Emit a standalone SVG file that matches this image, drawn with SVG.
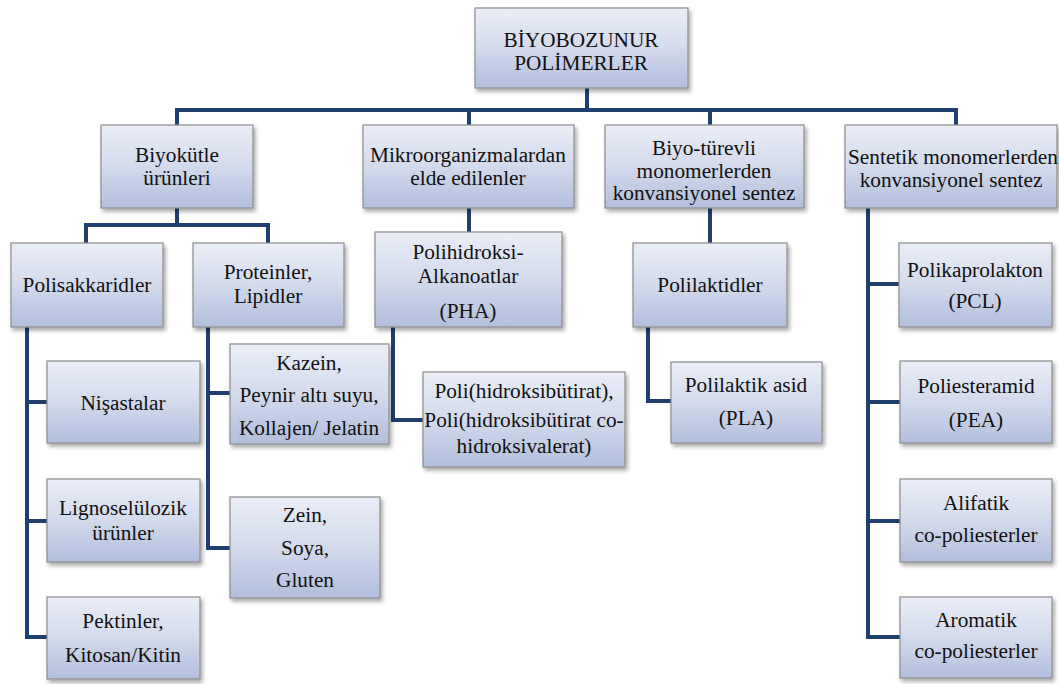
<svg xmlns="http://www.w3.org/2000/svg" width="1059" height="684" viewBox="0 0 1059 684">
<defs>
<linearGradient id="g" x1="0" y1="0" x2="0" y2="1">
<stop offset="0" stop-color="#EBEEF7"/>
<stop offset="0.5" stop-color="#D3DAEC"/>
<stop offset="1" stop-color="#B2BEDC"/>
</linearGradient>
<filter id="sh" x="-10%" y="-10%" width="125%" height="130%">
<feDropShadow dx="2" dy="3" stdDeviation="2" flood-color="#000" flood-opacity="0.35"/>
</filter>
</defs>
<style>
.b{fill:url(#g);stroke:#8C8C8C;stroke-width:1.2;filter:url(#sh)}
.t{font-family:'Liberation Serif','Times New Roman','DejaVu Serif',serif;font-size:21.3px;fill:#111;text-anchor:middle}
.c{fill:none;stroke:#1F3F6E;stroke-width:4;stroke-linejoin:miter}
</style>
<rect width="1059" height="684" fill="#fff"/>
<g id="connectors">
<path class="c" d="M587 88V110M177 125V110H956V125M469 110V125M710 110V125"/>
<path class="c" d="M177 208V225M86 243V225H268V243"/>
<path class="c" d="M27 327V637H47M27 402H47M27 521H47"/>
<path class="c" d="M208 327V548H230M208 393H230"/>
<path class="c" d="M469 208V232M393 327V420H423"/>
<path class="c" d="M710 208V243M648 327V401H671"/>
<path class="c" d="M868 208V637H900M868 284H899M868 402H900M868 521H900"/>
</g>
<g id="n-root"><rect class="b" x="475" y="8" width="213" height="80"/><text class="t" x="581" y="47">BİYOBOZUNUR</text><text class="t" x="581" y="70">POLİMERLER</text></g>
<g id="n-biyokutle"><rect class="b" x="101" y="125" width="152" height="83"/><text class="t" x="177" y="162">Biyokütle</text><text class="t" x="177" y="185">ürünleri</text></g>
<g id="n-mikro"><rect class="b" x="363" y="125" width="211" height="83"/><text class="t" x="468" y="162">Mikroorganizmalardan</text><text class="t" x="468" y="185">elde edilenler</text></g>
<g id="n-biyoturevli"><rect class="b" x="605" y="125" width="199" height="83"/><text class="t" x="704" y="155">Biyo-türevli</text><text class="t" x="704" y="178">monomerlerden</text><text class="t" x="704" y="200">konvansiyonel sentez</text></g>
<g id="n-sentetik"><rect class="b" x="845" y="125" width="212" height="83"/><text class="t" x="953" y="164">Sentetik monomerlerden</text><text class="t" x="951" y="187">konvansiyonel sentez</text></g>
<g id="n-polisakkarit"><rect class="b" x="11" y="243" width="152" height="84"/><text class="t" x="87" y="292">Polisakkaridler</text></g>
<g id="n-protein"><rect class="b" x="193" y="243" width="151" height="84"/><text class="t" x="268" y="279">Proteinler,</text><text class="t" x="268" y="303">Lipidler</text></g>
<g id="n-pha"><rect class="b" x="375" y="232" width="187" height="95"/><text class="t" x="468" y="259">Polihidroksi-</text><text class="t" x="468" y="283">Alkanoatlar</text><text class="t" x="468" y="318">(PHA)</text></g>
<g id="n-polilaktid"><rect class="b" x="633" y="243" width="154" height="84"/><text class="t" x="710" y="292">Polilaktidler</text></g>
<g id="n-pcl"><rect class="b" x="899" y="243" width="153" height="84"/><text class="t" x="975" y="277">Polikaprolakton</text><text class="t" x="975" y="308">(PCL)</text></g>
<g id="n-nisasta"><rect class="b" x="47" y="361" width="153" height="82"/><text class="t" x="123" y="410">Nişastalar</text></g>
<g id="n-ligno"><rect class="b" x="47" y="479" width="153" height="83"/><text class="t" x="123" y="515">Lignoselülozik</text><text class="t" x="123" y="540">ürünler</text></g>
<g id="n-pektin"><rect class="b" x="47" y="597" width="153" height="82"/><text class="t" x="123" y="628">Pektinler,</text><text class="t" x="123" y="662">Kitosan/Kitin</text></g>
<g id="n-kazein"><rect class="b" x="230" y="344" width="159" height="100"/><text class="t" x="309" y="370">Kazein,</text><text class="t" x="309" y="402">Peynir altı suyu,</text><text class="t" x="309" y="435">Kollajen/ Jelatin</text></g>
<g id="n-zein"><rect class="b" x="230" y="497" width="150" height="101"/><text class="t" x="305" y="522">Zein,</text><text class="t" x="305" y="555">Soya,</text><text class="t" x="305" y="587">Gluten</text></g>
<g id="n-phb"><rect class="b" x="423" y="372" width="202" height="95"/><text class="t" x="524" y="398">Poli(hidroksibütirat),</text><text class="t" x="524" y="427">Poli(hidroksibütirat co-</text><text class="t" x="524" y="453">hidroksivalerat)</text></g>
<g id="n-pla"><rect class="b" x="671" y="362" width="151" height="81"/><text class="t" x="746" y="392">Polilaktik asid</text><text class="t" x="746" y="425">(PLA)</text></g>
<g id="n-pea"><rect class="b" x="900" y="361" width="152" height="82"/><text class="t" x="976" y="393">Poliesteramid</text><text class="t" x="976" y="427">(PEA)</text></g>
<g id="n-alifatik"><rect class="b" x="900" y="479" width="152" height="83"/><text class="t" x="976" y="510">Alifatik</text><text class="t" x="976" y="542">co-poliesterler</text></g>
<g id="n-aromatik"><rect class="b" x="900" y="597" width="152" height="81"/><text class="t" x="976" y="627">Aromatik</text><text class="t" x="976" y="658">co-poliesterler</text></g>
</svg>
